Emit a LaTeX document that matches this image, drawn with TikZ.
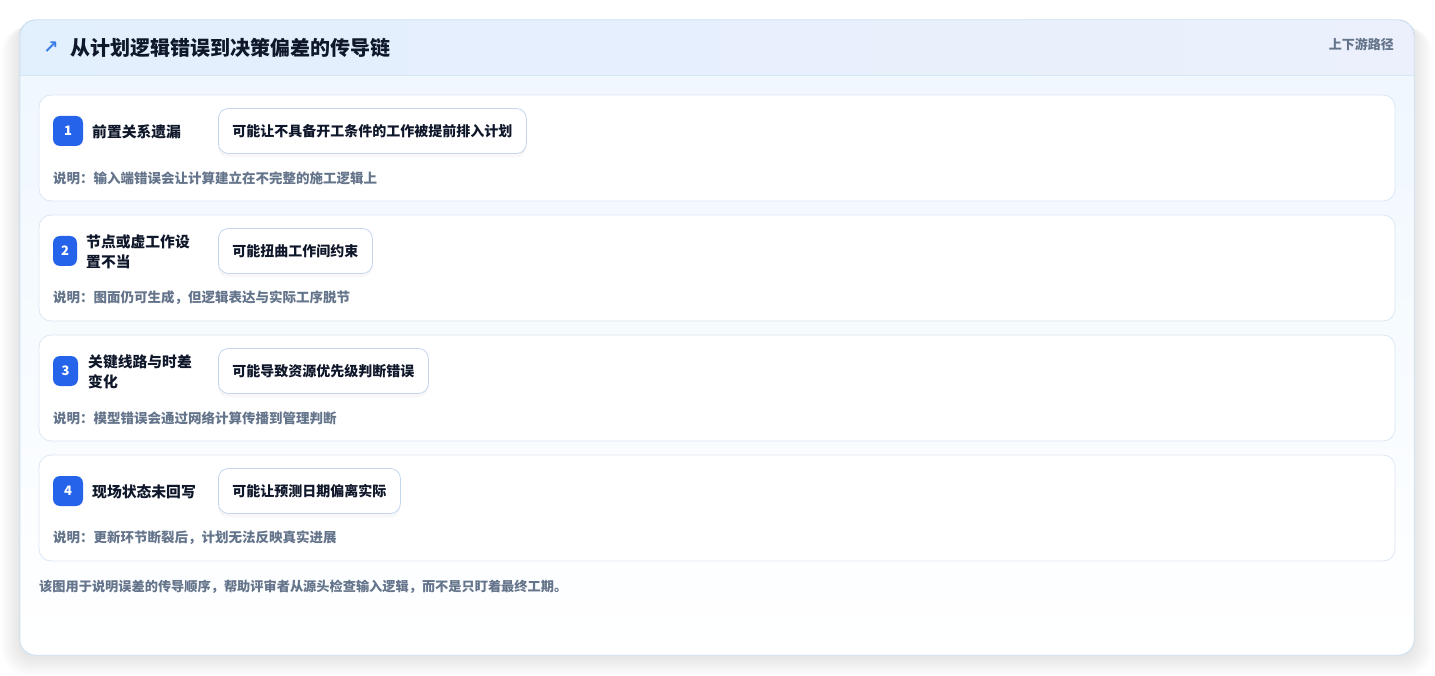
\documentclass[tikz,border=0pt]{standalone}
\usepackage{fontspec}
\setmainfont{Noto Sans CJK SC}
\newfontfamily\symfont{DejaVu Sans}
\usetikzlibrary{positioning,shadows}

\definecolor{ink}{HTML}{0F172A}
\definecolor{notegray}{HTML}{64748B}
\definecolor{badgeblue}{HTML}{2563EB}
\definecolor{iconblue}{HTML}{3B7DE6}
\definecolor{rowline}{HTML}{DCE8F5}
\definecolor{effline}{HTML}{C3D6EE}
\definecolor{cardline}{HTML}{CDE2F4}
\definecolor{headleft}{HTML}{E2EFFD}
\definecolor{headright}{HTML}{EBF0FC}
\definecolor{headline}{HTML}{D5E7F7}
\definecolor{bodytop}{HTML}{EEF7FE}

\begin{document}
\begin{tikzpicture}[x=1pt,y=1pt]
    \tikzstyle{every node}+=[inner sep=0pt]
    \tikzstyle{rowcard}=[draw=rowline, fill=white, line width=0.8pt, rounded corners=12pt, minimum width=1356pt, minimum height=106pt]
    \tikzstyle{badge}=[fill=badgeblue, rounded corners=7pt, minimum height=30pt, text=white, font=\fontsize{13}{15}\selectfont\bfseries]
    \tikzstyle{steplabel}=[anchor=west, align=left, text=ink, font=\fontsize{14.8}{20}\selectfont\bfseries]
    \tikzstyle{effect}=[anchor=west, draw=effline, fill=white, line width=0.8pt, rounded corners=10pt, minimum height=45pt, inner xsep=14pt, text=ink, font=\fontsize{14}{16}\selectfont\bfseries, drop shadow={opacity=0.05, shadow xshift=0pt, shadow yshift=-4pt}]
    \tikzstyle{note}=[anchor=west, text=notegray, font=\fontsize{13.5}{16}\selectfont\bfseries]
    \useasboundingbox (0,0) rectangle (1435,-676);
    \fill [white] (0,0) rectangle (1435,-676);
    \foreach \s in {1,...,12}
        \fill [black, opacity=0.007, rounded corners=16pt+\s pt] (20-1.6*\s,-22-0.4*\s) rectangle (1414+1.6*\s,-657-1.6*\s);
    \node [draw=none, rounded corners=16pt, minimum width=1394pt, minimum height=635pt, top color=bodytop, bottom color=white] (card) at (717,-337.5) {};
    \begin{scope}
        \clip [rounded corners=16pt] (20,-20) rectangle (1414,-655);
        \fill [left color=headleft, right color=headright] (20,-20) rectangle (1414,-75);
    \end{scope}
    \draw [headline, line width=0.8pt] (20,-75) -- (1414,-75);
    \draw [cardline, line width=0.9pt, rounded corners=16pt] (card.north west) rectangle (card.south east);
    \node [text=iconblue, font=\fontsize{18}{18}\selectfont\symfont\bfseries] (icon) at (51,-48) {↗};
    \node [anchor=west, text=ink, font=\fontsize{20}{22}\selectfont\bfseries] (title) at (70,-48) {从计划逻辑错误到决策偏差的传导链};
    \node [anchor=east, text=notegray, font=\fontsize{13}{15}\selectfont\bfseries] (scope) at (1394,-44) {上下游路径};

    \node [rowcard] (r1) at (717,-148) {};
    \node [badge, minimum width=30pt] (b1) at (68,-131) {1};
    \node [steplabel] (l1) at (92,-132) {前置关系遗漏};
    \node [effect] (e1) at (218,-131) {可能让不具备开工条件的工作被提前排入计划};
    \node [note] (n1) at (53,-178) {说明：输入端错误会让计算建立在不完整的施工逻辑上};

    \node [rowcard] (r2) at (717,-268) {};
    \node [badge, minimum width=24pt] (b2) at (65,-251) {2};
    \node [steplabel] (l2) at (86,-252) {节点或虚工作设\\置不当};
    \node [effect] (e2) at (218,-251) {可能扭曲工作间约束};
    \node [note] (n2) at (53,-298) {说明：图面仍可生成，但逻辑表达与实际工序脱节};

    \node [rowcard] (r3) at (717,-388) {};
    \node [badge, minimum width=25pt] (b3) at (65.5,-371) {3};
    \node [steplabel] (l3) at (88,-372) {关键线路与时差\\变化};
    \node [effect] (e3) at (218,-371) {可能导致资源优先级判断错误};
    \node [note] (n3) at (53,-418) {说明：模型错误会通过网络计算传播到管理判断};

    \node [rowcard] (r4) at (717,-508) {};
    \node [badge, minimum width=30pt] (b4) at (68,-491) {4};
    \node [steplabel] (l4) at (92,-492) {现场状态未回写};
    \node [effect] (e4) at (218,-491) {可能让预测日期偏离实际};
    \node [note] (n4) at (53,-538) {说明：更新环节断裂后，计划无法反映真实进展};

    \node [anchor=west, text=notegray, font=\fontsize{13.2}{16}\selectfont\bfseries] (foot) at (39,-587) {该图用于说明误差的传导顺序，帮助评审者从源头检查输入逻辑，而不是只盯着最终工期。};
    \end{tikzpicture}
\end{document}
